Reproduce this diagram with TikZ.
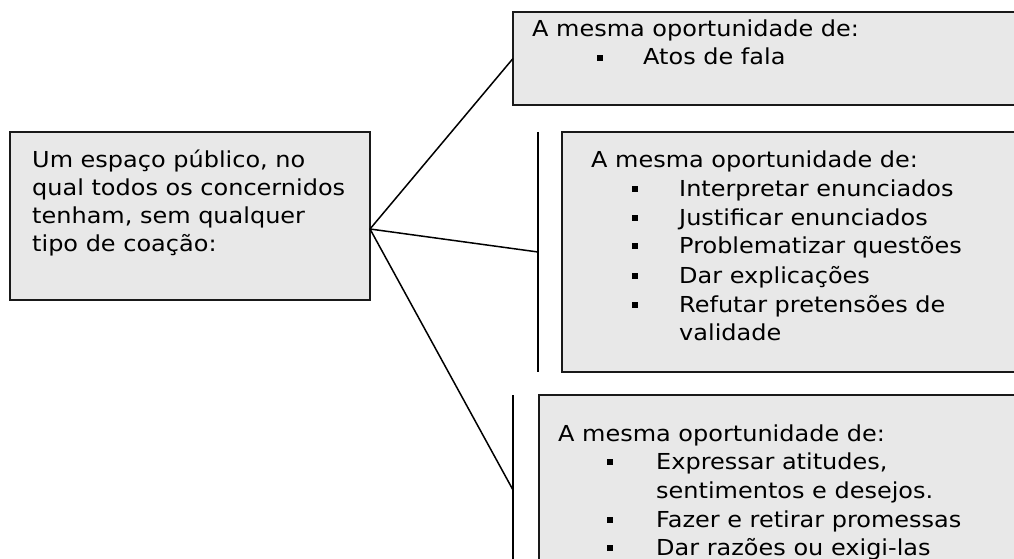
\documentclass[tikz,border=0pt]{standalone}
\usepackage{fontspec}
\setmainfont{DejaVu Sans}[FakeStretch=1.09]
\definecolor{boxgray}{HTML}{E8E8E8}

\def\fsize{22}
\newcommand{\sqbullet}{\rule[4pt]{6pt}{6pt}}

\begin{document}
\begin{tikzpicture}[x=1pt, y=-1pt,
    every node/.style={font=\fontsize{\fsize}{28}\selectfont},
    box/.style={draw=black!90, fill=boxgray, line width=1.8pt, rectangle,
      inner sep=0pt, outer sep=0pt, anchor=north west},
    txt/.style={anchor=base west, inner sep=0pt},
    link/.style={line width=1.5pt}]
      \useasboundingbox (0,0) rectangle (1014,559);
      \clip (0,0) rectangle (1014,559);
      % boxes
      \node[box, minimum width=360, minimum height=168] (lbox) at (10,132) {};
      \node[box, minimum width=520, minimum height=93] (tbox) at (513,12) {};
      \node[box, minimum width=470, minimum height=240] (mbox) at (562,132) {};
      \node[box, minimum width=490, minimum height=200] (bbox) at (539,395) {};
      % connectors
      \coordinate (hub) at (370,229);
      \coordinate (ma) at (538,132);
      \coordinate (mm) at (538,252);
      \coordinate (mb) at (538,372);
      \coordinate (ba) at (513,395);
      \coordinate (bm) at (513,490);
      \coordinate (bb) at (513,580);
      \draw[link, line width=1.8pt] (ma) -- (mb);
      \draw[link, line width=1.8pt] (ba) -- (bb);
      \draw[link] (hub) -- (tbox.west);
      \draw[link] (hub) -- (mm);
      \draw[link] (hub) -- (bm);
      % left text
      \node[txt] (l1) at (32,167) {Um espaço público, no};
      \node[txt] (l2) at (32,195) {qual todos os concernidos};
      \node[txt] (l3) at (32,223) {tenham, sem qualquer};
      \node[txt] (l4) at (32,251) {tipo de coação:};
      % top box
      \node[txt] (th) at (532,37) {A mesma oportunidade de:};
      \node[txt] (tb1) at (597,65) {\sqbullet};
      \node[txt] (ti1) at (643,65) {Atos de fala};
      % middle box
      \node[txt] (mh) at (591,167) {A mesma oportunidade de:};
      \node[txt] (mb1) at (632,196) {\sqbullet};
      \node[txt] (mi1) at (679,196) {Interpretar enunciados};
      \node[txt] (mb2) at (632,225) {\sqbullet};
      \node[txt] (mi2) at (679,225) {Justificar enunciados};
      \node[txt] (mb3) at (632,253) {\sqbullet};
      \node[txt] (mi3) at (679,253) {Problematizar questões};
      \node[txt] (mb4) at (632,283) {\sqbullet};
      \node[txt] (mi4) at (679,283) {Dar explicações};
      \node[txt] (mb5) at (632,312) {\sqbullet};
      \node[txt] (mi5) at (679,312) {Refutar pretensões de};
      \node[txt] (mi5b) at (679,340) {validade};
      % bottom box
      \node[txt] (bh) at (558,441) {A mesma oportunidade de:};
      \node[txt] (bb1) at (607,469) {\sqbullet};
      \node[txt] (bi1) at (656,469) {Expressar atitudes,};
      \node[txt] (bi1b) at (656,498) {sentimentos e desejos.};
      \node[txt] (bb2) at (607,527) {\sqbullet};
      \node[txt] (bi2) at (656,527) {Fazer e retirar promessas};
      \node[txt] (bb3) at (607,555) {\sqbullet};
      \node[txt] (bi3) at (656,555) {Dar razões ou exigi-las};
    \end{tikzpicture}
\end{document}
